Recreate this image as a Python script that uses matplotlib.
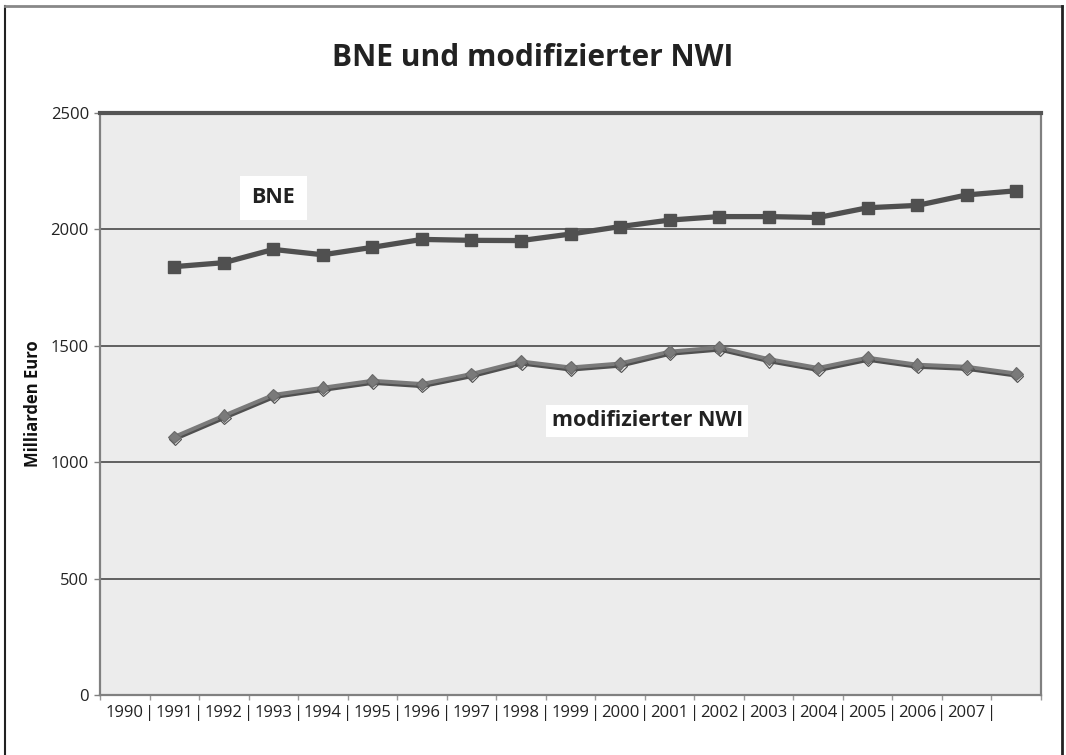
import numpy as np
import matplotlib
matplotlib.use("Agg")
import matplotlib.pyplot as plt
import matplotlib.patheffects as pe
from matplotlib.lines import Line2D
from matplotlib.ticker import FixedLocator, FixedFormatter

plt.rcParams['font.family'] = ['Open Sans', 'DejaVu Sans']

# ---- data ----
years = ["1990", "1991", "1992", "1993", "1994", "1995", "1996", "1997", "1998",
         "1999", "2000", "2001", "2002", "2003", "2004", "2005", "2006", "2007", ""]
bne = [np.nan, 1840, 1857, 1914, 1891, 1923, 1957, 1953, 1952, 1980, 2012, 2040,
       2055, 2055, 2051, 2093, 2103, 2148, 2166]
nwi = [np.nan, 1109, 1200, 1289, 1320, 1350, 1336, 1379, 1433, 1407, 1424, 1475,
       1493, 1443, 1405, 1449, 1419, 1410, 1381]
yticks = [0, 500, 1000, 1500, 2000, 2500]

title = "BNE und modifizierter NWI"
ylabel = "Milliarden Euro"
label_bne = "BNE"
label_nwi = "modifizierter NWI"

# ---- figure ----
fig = plt.figure(figsize=(10.66, 7.55), dpi=100)
ax = fig.add_axes([100/1066, 1-695/755, (1041-100)/1066, (695-113)/755])
ax.set_facecolor('#ececec')

n = len(years)
x = np.arange(n)
ax.set_xlim(-0.5, n - 0.5)
ax.set_ylim(0, 2500)

# gridlines
for v in yticks[1:-1]:
    ax.axhline(v, color='#555555', lw=1.3, zorder=1)
ax.axhline(2500, color='#555555', lw=3, zorder=3, clip_on=False)

# BNE
ax.plot(x, bne, color='#505050', lw=3.8, marker='s', markersize=8.8,
        markeredgecolor='#505050', zorder=5, solid_joinstyle='miter')
# NWI with slight shadow effect
ax.plot(x, nwi, color='#7a7a7a', lw=2.8, marker='D', markersize=6.4,
        markeredgecolor='#6a6a6a', markeredgewidth=0.8, zorder=5,
        path_effects=[pe.SimpleLineShadow(offset=(0.4, -1.6), shadow_color='#505050', alpha=1.0, rho=1.0),
                      pe.Normal()])

# labels in chart
ax.text(3.0, 2135, label_bne, fontsize=15.5, fontweight='bold', color='#222222',
        ha='center', va='center', zorder=6,
        bbox=dict(boxstyle='square,pad=0.55', facecolor='white', edgecolor='none'))
ax.text(10.55, 1177, label_nwi, fontsize=15.5, fontweight='bold', color='#222222',
        ha='center', va='center', zorder=6,
        bbox=dict(facecolor='white', edgecolor='none', pad=4))

# axes styling
for s in ['left', 'right', 'bottom']:
    ax.spines[s].set_color('#808080')
    ax.spines[s].set_linewidth(1.6)
ax.spines['top'].set_visible(False)

ax.set_yticks(yticks)
ax.set_yticklabels([str(v) for v in yticks], fontsize=12, color='#222222')
ax.tick_params(axis='y', direction='out', length=4, color='#808080', width=1, pad=4)

# major: year labels at category centres (no tick marks)
ax.set_xticks(x)
ax.set_xticklabels(years, fontsize=12, color='#222222')
ax.tick_params(axis='x', which='major', length=0, pad=7)
# minor: tick marks at category boundaries with '|' separators
bounds = np.arange(-0.5, n)
sep = [""] + ["|"] * (n - 1) + [""]
ax.xaxis.set_minor_locator(FixedLocator(bounds))
ax.xaxis.set_minor_formatter(FixedFormatter(sep))
ax.tick_params(axis='x', which='minor', direction='out', length=3.6, color='#999999',
               width=1, pad=3.4, labelsize=12, labelcolor='#222222')

ax.set_ylabel(ylabel, fontsize=12, fontweight='bold', color='#111111')
ax.yaxis.set_label_coords(-(100-42)/941, 0.5)

fig.text(0.5, 1-58/755, title, fontsize=21.5, fontweight='bold', color='#222222',
         ha='center', va='center')

# outer frame
fig.add_artist(Line2D([5/1066, 5/1066], [0, 1-6/755], transform=fig.transFigure, color='#222222', lw=1.5))
fig.add_artist(Line2D([5/1066, 1062/1066], [1-6/755, 1-6/755], transform=fig.transFigure, color='#888888', lw=2))
fig.add_artist(Line2D([1062/1066, 1062/1066], [0, 1-6/755], transform=fig.transFigure, color='#222222', lw=2))

fig.savefig("out.png", dpi=100, facecolor='white')
